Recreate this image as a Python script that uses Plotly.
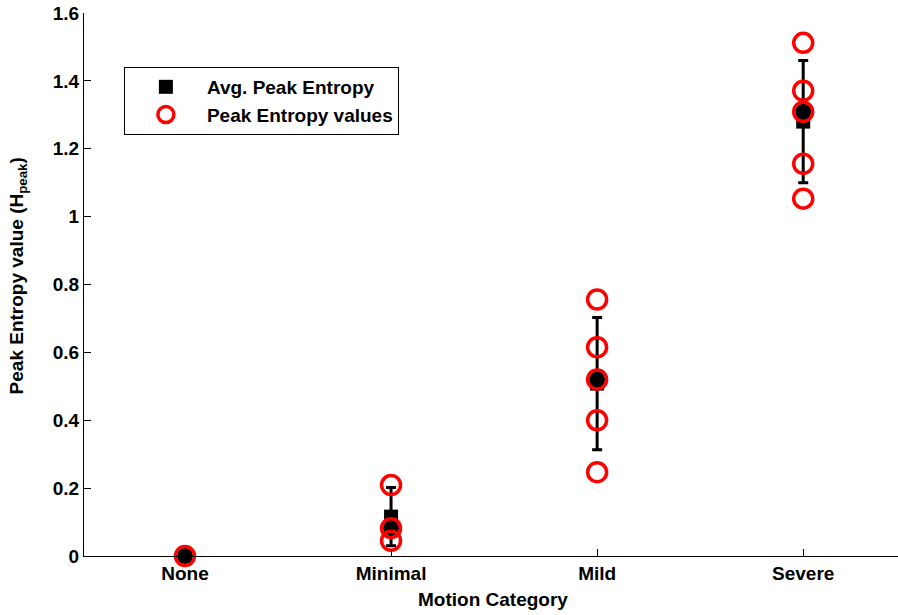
import plotly.graph_objects as go

categories = ["None", "Minimal", "Mild", "Severe"]
cat_pos = [1, 2, 3, 4]

# individual peak entropy values per category
none_vals = [0.0]
minimal_vals = [0.209, 0.082, 0.045]
mild_vals = [0.756, 0.615, 0.52, 0.40, 0.247]
severe_vals = [1.512, 1.371, 1.309, 1.156, 1.053]

avg_vals = [0.0, 0.116, 0.508, 1.28]
sd_vals = [0.0, 0.086, 0.195, 0.18]
median_vals = [0.0, 0.082, 0.52, 1.309]

y_ticks = [0, 0.2, 0.4, 0.6, 0.8, 1.0, 1.2, 1.4, 1.6]

FAM = "Liberation Sans, Arial, sans-serif"
FONT = dict(family=FAM, size=19, color="black", weight="bold")

groups = [none_vals, minimal_vals, mild_vals, severe_vals]
pts_x, pts_y = [], []
for p, vals in zip(cat_pos, groups):
    for v in vals:
        pts_x.append(p)
        pts_y.append(v)

fig = go.Figure()
fig.add_trace(go.Scatter(
    x=cat_pos, y=avg_vals, mode="markers", name="Avg. Peak Entropy",
    marker=dict(symbol="square", size=14, color="black"),
    error_y=dict(type="data", array=sd_vals, visible=True, color="black", thickness=3, width=5),
    cliponaxis=False,
))
fig.add_trace(go.Scatter(
    x=cat_pos, y=median_vals, mode="markers", showlegend=False,
    marker=dict(symbol="circle", size=16, color="black"),
    cliponaxis=False,
))
fig.add_trace(go.Scatter(
    x=pts_x, y=pts_y, mode="markers", name="Peak Entropy values",
    marker=dict(symbol="circle", size=19, color="rgba(0,0,0,0)",
                line=dict(color="red", width=3.5)),
    cliponaxis=False,
))

fig.update_layout(
    width=898, height=615,
    margin=dict(l=84, r=0, t=13, b=59),
    paper_bgcolor="white", plot_bgcolor="white",
    font=FONT,
    showlegend=True,
    legend=dict(
        x=0.049, y=0.9006, xanchor="left", yanchor="top",
        bordercolor="black", borderwidth=1, bgcolor="white",
        font=dict(family=FAM, size=19, color="black", weight="bold"),
        itemwidth=72, tracegroupgap=0,
    ),
    annotations=[
        dict(text="Motion Category", xref="paper", yref="paper",
             x=0.502, y=-0.081, xanchor="center", yanchor="middle",
             showarrow=False, font=FONT),
        dict(text="Peak Entropy value (H<sub>peak</sub>)", xref="paper", yref="paper",
             x=-0.081, y=0.515, xanchor="center", yanchor="middle", textangle=-90,
             showarrow=False, font=FONT),
    ],
)
fig.update_xaxes(
    range=[0.51, 4.46], tickvals=cat_pos, ticktext=categories,
    showline=True, linecolor="black", linewidth=1,
    ticks="inside", ticklen=7, tickcolor="black",
    showgrid=False, zeroline=False, automargin=False,
    tickfont=FONT, ticklabeloverflow="allow",
)
fig.update_yaxes(
    range=[0, 1.6], tickvals=y_ticks,
    showline=True, linecolor="black", linewidth=1,
    ticks="inside", ticklen=7, tickcolor="black",
    showgrid=False, zeroline=False, automargin=False,
    tickfont=FONT, ticklabeloverflow="allow",
)

fig.write_html(
    "out.html",
    config={"displayModeBar": False},
    post_script="document.body.style.margin='0';document.body.style.overflow='hidden';",
)
